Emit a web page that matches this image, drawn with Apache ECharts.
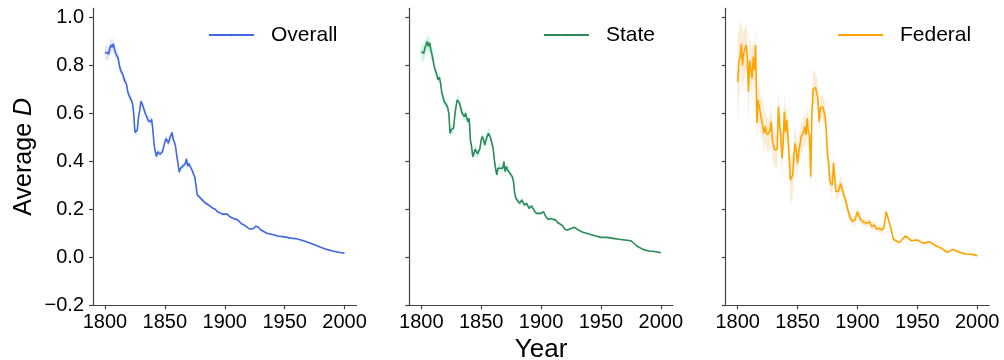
<!DOCTYPE html>
<html>
<head>
<meta charset="UTF-8">
<title>Average D</title>
<script src="https://cdn.jsdelivr.net/npm/echarts@6/dist/echarts.min.js"></script>
<style>
  html, body { margin: 0; padding: 0; background: #fff; }
  #chart { width: 1004px; height: 360px; }
</style>
</head>
<body>
<div id="chart"></div>
<script>
// sampled years: yearly to 1880, every 2 years to 1930, every 5 years to 2000
var years = [
  1800,1801,1802,1803,1804,1805,1806,1807,1808,1809,1810,1811,1812,1813,1814,1815,
  1816,1817,1818,1819,1820,1821,1822,1823,1824,1825,1826,1827,1828,1829,1830,1831,
  1832,1833,1834,1835,1836,1837,1838,1839,1840,1841,1842,1843,1844,1845,1846,1847,
  1848,1849,1850,1851,1852,1853,1854,1855,1856,1857,1858,1859,1860,1861,1862,1863,
  1864,1865,1866,1867,1868,1869,1870,1871,1872,1873,1874,1875,1876,1877,1878,1879,1880,
  1882,1884,1886,1888,1890,1892,1894,1896,1898,1900,1902,1904,1906,1908,1910,1912,
  1914,1916,1918,1920,1922,1924,1926,1928,1930,
  1935,1940,1945,1950,1955,1960,1965,1970,1975,1980,1985,1990,1995,2000
];

var overall = [
  0.850,0.850,0.855,0.845,0.870,0.885,0.875,0.890,0.865,0.850,0.845,0.830,0.800,0.780,0.775,0.760,
  0.740,0.745,0.720,0.690,0.675,0.665,0.655,0.640,0.600,0.520,0.515,0.530,0.585,0.610,0.650,0.640,
  0.625,0.610,0.595,0.585,0.570,0.575,0.565,0.575,0.530,0.470,0.440,0.420,0.440,0.435,0.430,0.435,
  0.440,0.460,0.480,0.495,0.490,0.475,0.495,0.500,0.520,0.490,0.480,0.460,0.420,0.390,0.355,0.370,
  0.375,0.380,0.378,0.390,0.410,0.380,0.390,0.380,0.370,0.360,0.345,0.335,0.300,0.260,0.255,0.250,0.245,
  0.235,0.225,0.220,0.212,0.205,0.200,0.190,0.185,0.180,0.180,0.180,0.170,0.165,0.160,0.158,0.150,
  0.140,0.135,0.128,0.120,0.118,0.120,0.130,0.125,0.115,
  0.100,0.095,0.088,0.085,0.080,0.077,0.070,0.062,0.052,0.042,0.033,0.026,0.021,0.017
];

var state = [
  0.857,0.853,0.850,0.871,0.878,0.899,0.878,0.894,0.864,0.843,0.850,0.790,0.775,0.760,0.740,0.750,
  0.730,0.690,0.670,0.650,0.642,0.635,0.625,0.600,0.517,0.531,0.531,0.538,0.593,0.628,0.656,0.660,
  0.642,0.621,0.600,0.593,0.586,0.600,0.579,0.565,0.579,0.489,0.461,0.419,0.433,0.450,0.440,0.431,
  0.433,0.454,0.489,0.503,0.489,0.468,0.489,0.503,0.517,0.524,0.496,0.475,0.454,0.406,0.371,0.343,
  0.371,0.378,0.371,0.364,0.371,0.399,0.357,0.378,0.364,0.371,0.350,0.343,0.336,0.315,0.267,0.246,0.239,
  0.225,0.239,0.218,0.225,0.204,0.214,0.197,0.183,0.183,0.183,0.190,0.169,0.158,0.162,0.158,0.156,
  0.144,0.138,0.131,0.117,0.114,0.118,0.121,0.125,0.117,
  0.104,0.097,0.090,0.083,0.083,0.079,0.075,0.072,0.069,0.047,0.033,0.026,0.024,0.019
];

var federal = [
  0.730,0.820,0.830,0.890,0.800,0.850,0.850,0.885,0.840,0.690,0.820,0.815,0.745,0.835,0.780,0.885,
  0.560,0.655,0.630,0.600,0.572,0.580,0.515,0.545,0.520,0.510,0.505,0.530,0.565,0.485,0.465,0.447,
  0.440,0.450,0.628,0.550,0.510,0.413,0.480,0.607,0.520,0.572,0.500,0.420,0.322,0.330,0.343,0.426,
  0.475,0.440,0.392,0.440,0.470,0.503,0.496,0.520,0.544,0.510,0.579,0.520,0.510,0.336,0.607,0.700,
  0.704,0.708,0.700,0.661,0.565,0.621,0.625,0.628,0.607,0.590,0.524,0.426,0.390,0.315,0.310,0.300,0.395,
  0.275,0.274,0.308,0.270,0.239,0.197,0.163,0.150,0.156,0.190,0.163,0.150,0.145,0.142,0.149,0.128,
  0.135,0.117,0.121,0.114,0.121,0.190,0.155,0.120,0.075,
  0.061,0.089,0.069,0.072,0.058,0.065,0.049,0.038,0.021,0.033,0.021,0.014,0.0125,0.007
];

// half width of the shaded uncertainty band around each line
var overallBand = [
  0.030,0.030,0.030,0.028,0.028,0.028,0.026,0.026,0.025,0.024,0.022,0.020,0.018,0.018,0.016,0.016,
  0.016,0.016,0.015,0.015,0.015,0.015,0.015,0.015,0.015,0.015,0.015,0.015,0.015,0.015,0.015,0.015,
  0.015,0.015,0.015,0.015,0.015,0.015,0.015,0.015,0.015,0.015,0.015,0.015,0.015,0.015,0.014,0.014,
  0.014,0.014,0.014,0.014,0.014,0.014,0.014,0.014,0.014,0.014,0.014,0.014,0.013,0.013,0.013,0.013,
  0.012,0.012,0.012,0.012,0.012,0.012,0.012,0.012,0.011,0.011,0.011,0.010,0.010,0.010,0.009,0.009,0.009,
  0.008,0.008,0.007,0.007,0.007,0.006,0.006,0.006,0.006,0.006,0.005,0.005,0.005,0.005,0.005,0.005,
  0.005,0.004,0.004,0.004,0.004,0.004,0.004,0.004,0.004,
  0.003,0.003,0.003,0.003,0.003,0.003,0.003,0.003,0.003,0.003,0.003,0.003,0.003,0.003
];

var stateBand = [
  0.035,0.035,0.035,0.032,0.032,0.030,0.030,0.030,0.028,0.028,0.025,0.022,0.020,0.020,0.018,0.018,
  0.018,0.018,0.018,0.018,0.018,0.018,0.018,0.018,0.018,0.018,0.018,0.018,0.018,0.018,0.018,0.018,
  0.018,0.018,0.018,0.018,0.017,0.017,0.017,0.017,0.017,0.017,0.017,0.017,0.017,0.017,0.016,0.016,
  0.016,0.016,0.016,0.016,0.016,0.016,0.016,0.016,0.016,0.016,0.016,0.015,0.015,0.015,0.015,0.015,
  0.014,0.014,0.014,0.014,0.013,0.013,0.013,0.013,0.012,0.012,0.012,0.011,0.011,0.010,0.010,0.010,0.010,
  0.009,0.008,0.008,0.007,0.007,0.007,0.006,0.006,0.006,0.006,0.006,0.005,0.005,0.005,0.005,0.005,
  0.005,0.004,0.004,0.004,0.004,0.004,0.004,0.004,0.004,
  0.003,0.003,0.003,0.003,0.003,0.003,0.003,0.003,0.003,0.003,0.003,0.003,0.003,0.003
];

var federalBand = [
  0.180,0.150,0.130,0.100,0.120,0.110,0.100,0.090,0.100,0.130,0.100,0.090,0.100,0.080,0.090,0.080,
  0.090,0.080,0.080,0.080,0.080,0.080,0.080,0.070,0.070,0.070,0.070,0.070,0.070,0.070,0.070,0.070,
  0.070,0.080,0.070,0.070,0.070,0.080,0.070,0.080,0.070,0.070,0.070,0.080,0.090,0.100,0.090,0.080,
  0.070,0.070,0.060,0.060,0.060,0.060,0.060,0.060,0.060,0.060,0.060,0.060,0.060,0.070,0.060,0.080,
  0.070,0.060,0.050,0.050,0.050,0.050,0.050,0.050,0.050,0.050,0.050,0.050,0.050,0.040,0.040,0.040,0.040,
  0.030,0.030,0.030,0.030,0.025,0.025,0.020,0.020,0.020,0.020,0.020,0.015,0.015,0.015,0.015,0.015,
  0.015,0.015,0.015,0.015,0.015,0.015,0.015,0.010,0.010,
  0.005,0.005,0.005,0.005,0.005,0.005,0.005,0.005,0.005,0.005,0.005,0.005,0.005,0.005
];

var panelNames = ['Overall', 'State', 'Federal'];
var lineColors = ['#4169e1', '#2e8b57', '#ffa500'];
var bandColors = ['rgba(65,105,225,0.16)', 'rgba(102,230,190,0.35)', 'rgba(240,190,120,0.3)'];
var xTicks = [1800, 1850, 1900, 1950, 2000];
var yTicks = [-0.2, 0.0, 0.2, 0.4, 0.6, 0.8, 1.0];

var panelValues = [overall, state, federal];
var panelBands = [overallBand, stateBand, federalBand];
var gridLefts = [93, 409.3, 725.7];
var legendLefts = [208, 543, 837];

var FONT = '"Liberation Sans", Arial, Helvetica, sans-serif';
var AXIS_COLOR = '#444';

var chart = echarts.init(document.getElementById('chart'), null, {renderer: 'canvas'});

var grids = [], xAxes = [], yAxes = [], series = [], legends = [];

panelNames.forEach(function (name, k) {
  var vals = panelValues[k];
  var band = panelBands[k];

  // fixed plot boxes: do not let the axis name squeeze the grid
  grids.push({left: gridLefts[k], top: 8.3, width: 263.5, height: 297,
    containLabel: false, outerBoundsMode: 'none'});

  xAxes.push({
    type: 'value', gridIndex: k, min: 1790, max: 2010,
    name: k === 1 ? 'Year' : '',
    nameLocation: 'middle', nameGap: 31,
    nameTextStyle: {fontSize: 26, color: '#000', fontFamily: FONT},
    axisLine: {show: true, onZero: false, lineStyle: {color: AXIS_COLOR, width: 1.2}},
    axisTick: {show: true, length: 4, customValues: xTicks, lineStyle: {color: AXIS_COLOR, width: 1.2}},
    axisLabel: {
      customValues: xTicks, fontSize: 20, color: '#000', margin: 7, fontFamily: FONT,
      formatter: function (v) { return String(v); }
    },
    splitLine: {show: false}
  });

  yAxes.push({
    type: 'value', gridIndex: k, min: -0.2, max: 1.0375,
    name: k === 0 ? 'Average {i|D}' : '',
    nameLocation: 'middle', nameGap: 56,
    nameTextStyle: {fontSize: 25, color: '#000', fontFamily: FONT,
      rich: {i: {fontSize: 25, fontStyle: 'italic', color: '#000', fontFamily: FONT}}},
    axisLine: {show: true, onZero: false, lineStyle: {color: AXIS_COLOR, width: 1.2}},
    axisTick: {show: true, length: 4, customValues: yTicks, lineStyle: {color: AXIS_COLOR, width: 1.2}},
    axisLabel: {
      show: k === 0, customValues: yTicks, fontSize: 20, color: '#000', margin: 9, fontFamily: FONT,
      formatter: function (v) { return v.toFixed(1).replace('-', '\u2212'); }
    },
    splitLine: {show: false}
  });

  series.push({
    type: 'custom', name: name + ' band', xAxisIndex: k, yAxisIndex: k,
    silent: true, z: 1, data: [[years[0], vals[0]]],
    renderItem: function (params, api) {
      var pts = [];
      for (var i = 0; i < years.length; i++) pts.push(api.coord([years[i], vals[i] + band[i]]));
      for (var j = years.length - 1; j >= 0; j--) pts.push(api.coord([years[j], vals[j] - band[j]]));
      return {type: 'polygon', shape: {points: pts}, style: {fill: bandColors[k]}};
    }
  });

  series.push({
    type: 'line', name: name, xAxisIndex: k, yAxisIndex: k, z: 2,
    data: years.map(function (y, i) { return [y, vals[i]]; }),
    showSymbol: false, symbol: 'circle', symbolSize: 2,
    lineStyle: {color: lineColors[k], width: 1.6},
    itemStyle: {color: lineColors[k]},
    emphasis: {disabled: true}
  });

  legends.push({
    data: [name], left: legendLefts[k], top: 23, padding: 0,
    itemWidth: 45, itemHeight: 3, selectedMode: false,
    textStyle: {fontSize: 21, color: '#000', fontFamily: FONT, lineHeight: 24, padding: [0, 0, 0, 12]}
  });
});

chart.setOption({
  animation: false,
  backgroundColor: '#fff',
  textStyle: {fontFamily: FONT},
  grid: grids,
  xAxis: xAxes,
  yAxis: yAxes,
  legend: legends,
  series: series
});
</script>
</body>
</html>
